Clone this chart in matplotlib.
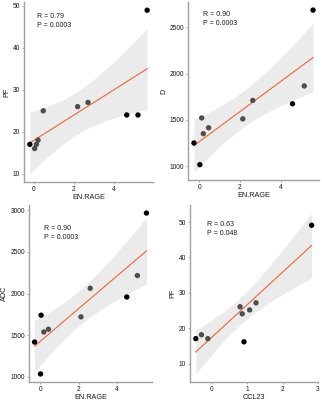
import numpy as np
import matplotlib
matplotlib.use("Agg")
import matplotlib.pyplot as plt

plt.rcParams['font.family'] = ['Liberation Sans', 'DejaVu Sans']

# EN.RAGE vs PF
enrage_1 = [-0.21, 0.03, 0.12, 0.20, 0.46, 2.18, 2.70, 4.64, 5.20, 5.66]
pf_1 = [17, 16, 17, 18, 25, 26, 27, 24, 24, 49]
dark_1 = [1, 0, 0, 0, 0, 0, 0, 1, 1, 1]

# EN.RAGE vs D
enrage_2 = [-0.26, 0.03, 0.12, 0.20, 0.46, 2.14, 2.63, 4.58, 5.16, 5.59]
d_2 = [1252, 1018, 1522, 1352, 1416, 1512, 1711, 1675, 1867, 2685]
dark_2 = [1, 1, 0, 0, 0, 0, 0, 1, 0, 1]

# EN.RAGE vs ADC
enrage_3 = [-0.29, 0.02, 0.05, 0.19, 0.43, 2.12, 2.60, 4.50, 5.05, 5.52]
adc_3 = [1416, 1032, 1739, 1537, 1570, 1719, 2063, 1958, 2216, 2968]
dark_3 = [1, 1, 1, 0, 0, 0, 0, 1, 0, 1]

# CCL23 vs PF
ccl23_4 = [-0.45, -0.29, -0.11, 0.80, 0.86, 1.07, 1.25, 0.91, 2.82]
pf_4 = [17.1, 18.2, 17.1, 26.1, 24.1, 25.2, 27.2, 16.2, 49.1]
dark_4 = [1, 0, 0, 0, 0, 0, 0, 1, 1]

stats = [("R = 0.79", "P = 0.0003"), ("R = 0.90", "P = 0.0003"),
         ("R = 0.90", "P = 0.0003"), ("R = 0.63", "P = 0.048")]
t_crit = {8: 2.306, 7: 2.365}

W, H = 322, 400
fig = plt.figure(figsize=(W / 100, H / 100), dpi=100)


def ax_px(l, t, r, b):
    return fig.add_axes([l / W, 1 - b / H, (r - l) / W, (b - t) / H])


panels = [
    (ax_px(24, 2, 153, 182), enrage_1, pf_1, dark_1, "EN.RAGE", "PF", [10, 20, 30, 40, 50], [0, 2, 4], (0.10, 0.92)),
    (ax_px(188, 2, 319, 180), enrage_2, d_2, dark_2, "EN.RAGE", "D", [1000, 1500, 2000, 2500], [0, 2, 4], (0.115, 0.93)),
    (ax_px(29, 205, 152, 382), enrage_3, adc_3, dark_3, "EN.RAGE", "ADC", [1000, 1500, 2000, 2500, 3000], [0, 2, 4], (0.12, 0.865)),
    (ax_px(190, 205, 318, 382), ccl23_4, pf_4, dark_4, "CCL23", "PF", [10, 20, 30, 40, 50], [0, 1, 2, 3], (0.13, 0.89)),
]

for i, (ax, x, y, dark, xl, yl, yt, xt, tpos) in enumerate(panels):
    x = np.array(x, float)
    y = np.array(y, float)
    n = len(x)
    b, a = np.polyfit(x, y, 1)
    xs = np.linspace(x.min(), x.max(), 80)
    fit = a + b * xs
    resid = y - (a + b * x)
    s = np.sqrt(np.sum(resid ** 2) / (n - 2))
    se = s * np.sqrt(1 / n + (xs - x.mean()) ** 2 / np.sum((x - x.mean()) ** 2))
    lo = fit - t_crit[n - 2] * se
    hi = fit + t_crit[n - 2] * se

    ax.fill_between(xs, lo, hi, color="#EBEBEB", lw=0, zorder=1)
    ax.plot(xs, fit, color="#E8663D", lw=0.8, zorder=2)
    cols = ["#000000" if d else "#4D4D4D" for d in dark]
    ax.scatter(x, y, s=15, c=cols, lw=0, zorder=3)

    xmin, xmax = x.min(), x.max()
    ymin, ymax = min(y.min(), lo.min()), max(y.max(), hi.max())
    ax.set_xlim(xmin - 0.05 * (xmax - xmin), xmax + 0.05 * (xmax - xmin))
    ax.set_ylim(ymin - 0.05 * (ymax - ymin), ymax + 0.05 * (ymax - ymin))

    ax.set_xticks(xt)
    ax.set_yticks(yt)
    for side in ["top", "right"]:
        ax.spines[side].set_visible(False)
    for side in ["left", "bottom"]:
        ax.spines[side].set_color("#A0A0A0")
        ax.spines[side].set_linewidth(1.0)
    ax.tick_params(labelsize=4.8, colors="#A0A0A0", labelcolor="#1A1A1A",
                   length=1.5, width=0.6, pad=1.3)
    ax.set_xlabel(xl, fontsize=5.2, color="#1A1A1A", labelpad=0.8)
    ax.set_ylabel(yl, fontsize=5.2, color="#1A1A1A", labelpad=1.5)
    ax.patch.set_visible(False)

    ax.text(tpos[0], tpos[1], stats[i][0], transform=ax.transAxes,
            fontsize=5.0, color="#1A1A1A", va="center", ha="left")
    ax.text(tpos[0], tpos[1] - 0.05, stats[i][1], transform=ax.transAxes,
            fontsize=5.0, color="#1A1A1A", va="center", ha="left")

fig.savefig("out.png", dpi=100)
